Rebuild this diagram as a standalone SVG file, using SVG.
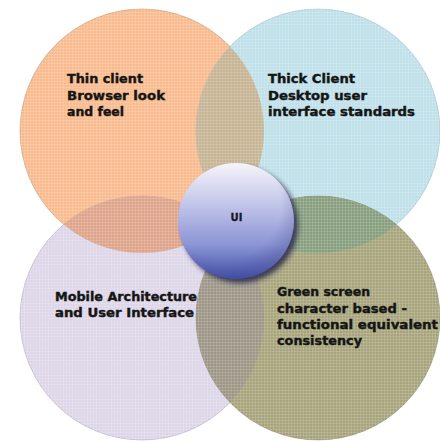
<svg xmlns="http://www.w3.org/2000/svg" width="440" height="441" viewBox="0 0 440 441">
  <defs>
    <style>
      .label { font-family: "DejaVu Sans", Verdana, sans-serif; font-weight: bold; font-size: 12.5px; fill: #151515; stroke: #151515; stroke-width: 0.4px; }
      .ui { font-family: "DejaVu Sans", Verdana, sans-serif; font-weight: bold; font-size: 10px; fill: #161a2c; stroke: #161a2c; stroke-width: 0.3px; }
      .disc { stroke-width: 1; stroke-opacity: 0.35; }
      .grain { fill: url(#grid); }
    </style>
    <!-- fine screen texture over the discs -->
    <pattern id="grid" width="3" height="3" patternUnits="userSpaceOnUse">
      <rect x="0" y="0" width="1" height="3" fill="#ffffff" fill-opacity="0.14"/>
      <rect x="0" y="0" width="3" height="1" fill="#ffffff" fill-opacity="0.14"/>
    </pattern>
    <clipPath id="clipOrange"><circle cx="142" cy="131" r="122"/></clipPath>
    <clipPath id="clipBlue"><circle cx="318" cy="131" r="122"/></clipPath>
    <clipPath id="clipLavender"><circle cx="142" cy="318" r="122"/></clipPath>
    <linearGradient id="sphereFill" x1="0" y1="0" x2="0" y2="1">
      <stop offset="0" stop-color="#f6f5fb"/>
      <stop offset="0.35" stop-color="#c3c6ea"/>
      <stop offset="0.7" stop-color="#8c95d6"/>
      <stop offset="1" stop-color="#4452ab"/>
    </linearGradient>
    <radialGradient id="sphereShade" cx="0.4" cy="0.35" r="0.65">
      <stop offset="0.75" stop-color="#3a3f80" stop-opacity="0"/>
      <stop offset="1" stop-color="#3a3f80" stop-opacity="0.25"/>
    </radialGradient>
    <filter id="soft" x="-30%" y="-30%" width="160%" height="160%">
      <feGaussianBlur stdDeviation="2.5"/>
    </filter>
  </defs>

  <rect width="440" height="441" fill="#ffffff"/>

  <!-- Thin client -->
  <g id="thin-client">
    <circle class="disc" cx="142" cy="131" r="122" fill="#f9bb8e" stroke="#9a6a4a"/>
    <circle class="grain" cx="142" cy="131" r="122"/>
    <text class="label" x="67" y="83" textLength="76" lengthAdjust="spacingAndGlyphs">Thin client</text>
    <text class="label" x="67" y="99.5" textLength="98" lengthAdjust="spacingAndGlyphs">Browser look</text>
    <text class="label" x="67" y="116" textLength="57" lengthAdjust="spacingAndGlyphs">and feel</text>
  </g>

  <!-- Thick client -->
  <g id="thick-client">
    <circle class="disc" cx="318" cy="131" r="122" fill="#bfe0e9" stroke="#7a9aa6"/>
    <circle class="grain" cx="318" cy="131" r="122"/>
    <circle cx="318" cy="131" r="122" fill="#c6b494" clip-path="url(#clipOrange)"/>
    <circle class="grain" cx="318" cy="131" r="122" clip-path="url(#clipOrange)"/>
    <text class="label" x="268" y="83" textLength="87" lengthAdjust="spacingAndGlyphs">Thick Client</text>
    <text class="label" x="268" y="99.5" textLength="99" lengthAdjust="spacingAndGlyphs">Desktop user</text>
    <text class="label" x="268" y="116" textLength="147" lengthAdjust="spacingAndGlyphs">interface standards</text>
  </g>

  <!-- Mobile -->
  <g id="mobile">
    <circle class="disc" cx="142" cy="318" r="122" fill="#ddd6e8" stroke="#8a80a0"/>
    <circle class="grain" cx="142" cy="318" r="122"/>
    <circle cx="142" cy="318" r="122" fill="#dea48a" clip-path="url(#clipOrange)"/>
    <circle class="grain" cx="142" cy="318" r="122" clip-path="url(#clipOrange)"/>
    <text class="label" x="55" y="301" textLength="142" lengthAdjust="spacingAndGlyphs">Mobile Architecture</text>
    <text class="label" x="55" y="317" textLength="139" lengthAdjust="spacingAndGlyphs">and User Interface</text>
  </g>

  <!-- Green screen -->
  <g id="green-screen">
    <circle class="disc" cx="318" cy="318" r="122" fill="#a7a47b" stroke="#6c6a4c"/>
    <circle class="grain" cx="318" cy="318" r="122"/>
    <circle cx="318" cy="318" r="122" fill="#879e7e" clip-path="url(#clipBlue)"/>
    <circle cx="318" cy="318" r="122" fill="#9d9686" clip-path="url(#clipLavender)"/>
    <circle class="grain" cx="318" cy="318" r="122" clip-path="url(#clipBlue)"/>
    <circle class="grain" cx="318" cy="318" r="122" clip-path="url(#clipLavender)"/>
    <text class="label" x="277" y="296" textLength="93" lengthAdjust="spacingAndGlyphs">Green screen</text>
    <text class="label" x="277" y="312.5" textLength="130" lengthAdjust="spacingAndGlyphs">character based -</text>
    <text class="label" x="277" y="329" textLength="161" lengthAdjust="spacingAndGlyphs">functional equivalent</text>
    <text class="label" x="277" y="345" textLength="85" lengthAdjust="spacingAndGlyphs">consistency</text>
  </g>

  <!-- UI hub -->
  <g id="ui">
    <circle cx="240" cy="225" r="58" fill="#1e2248" fill-opacity="0.8" filter="url(#soft)"/>
    <circle cx="236" cy="221" r="58" fill="url(#sphereFill)"/>
    <circle cx="236" cy="221" r="58" fill="url(#sphereShade)"/>
    <text class="ui" x="236.5" y="221" text-anchor="middle">UI</text>
  </g>
</svg>
